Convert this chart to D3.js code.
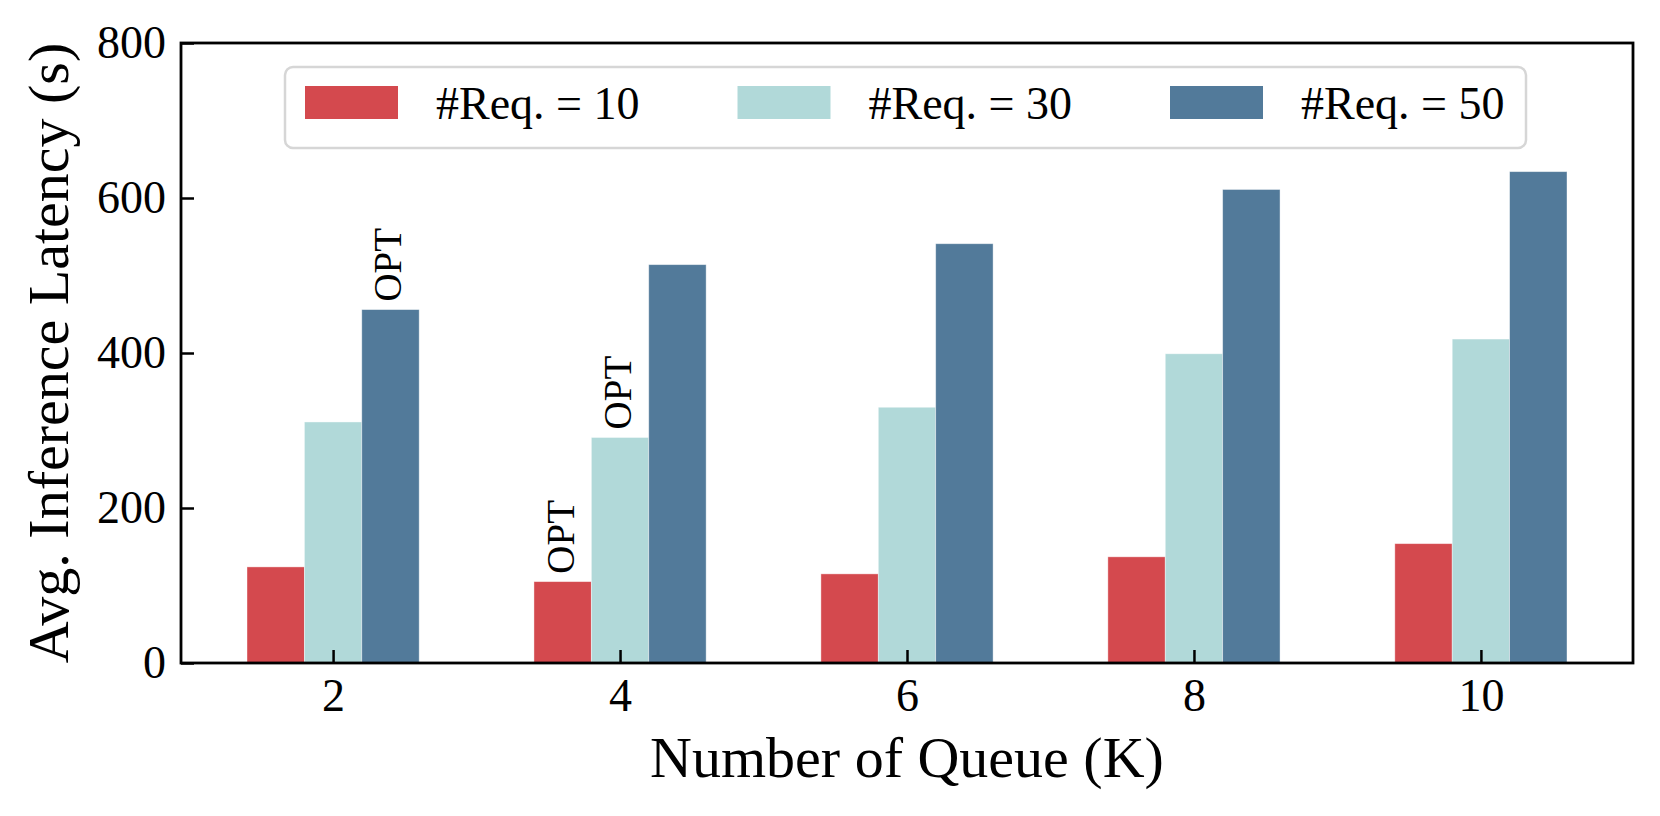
<!DOCTYPE html>
<html>
<head>
<meta charset="utf-8">
<script src="https://cdn.jsdelivr.net/npm/d3@7"></script>
<style>
  body { margin: 0; background: #fff; }
  svg text { font-family: "Liberation Serif", "Times New Roman", serif; fill: #000; }
</style>
</head>
<body>
<div id="chart"></div>
<script>
// data
const queues = [2, 4, 6, 8, 10];
const seriesNames = ['#Req. = 10', '#Req. = 30', '#Req. = 50'];
const req10 = [124, 105, 115, 137, 154];
const req30 = [311, 291, 330, 399, 418];
const req50 = [456, 514, 541, 611, 634];
const yTicks = [0, 200, 400, 600, 800];
// which bars carry the "OPT" mark: [queue index, series index]
const optMarks = [[0, 2], [1, 0], [1, 1]];

const colors = ['#d4494e', '#b1d9d9', '#527a9a'];
const series = [req10, req30, req50];

const W = 1660, H = 816;
const margin = { left: 181, right: 27, top: 43, bottom: 153 };
const barW = 0.4;

const svg = d3.select('#chart').append('svg')
  .attr('width', W).attr('height', H);

const x = d3.scaleLinear()
  .domain([0.94, 11.06])
  .range([margin.left, W - margin.right]);
const y = d3.scaleLinear()
  .domain([0, 800])
  .range([H - margin.bottom, margin.top]);

const bw = x(barW) - x(0);

// bars
const g = svg.append('g');
series.forEach((vals, si) => {
  g.selectAll(`.bar-${si}`)
    .data(vals.map((v, i) => ({ k: queues[i], v })))
    .enter().append('rect')
    .attr('class', `bar-${si}`)
    .attr('x', d => x(d.k + (si - 1) * barW) - bw / 2)
    .attr('y', d => y(d.v))
    .attr('width', bw)
    .attr('height', d => y(0) - y(d.v))
    .attr('fill', colors[si])
    .attr('stroke', '#fff')
    .attr('stroke-opacity', 0.5)
    .attr('stroke-width', 0.8);
});

// OPT labels, rotated
optMarks.forEach(([qi, si]) => {
  const cx = x(queues[qi] + (si - 1) * barW);
  const ty = y(series[si][qi]) - 8;
  svg.append('text')
    .attr('transform', `translate(${cx + 11},${ty}) rotate(-90)`)
    .attr('text-anchor', 'start')
    .style('font-size', '39px')
    .text('OPT');
});

// axes
const xAxis = d3.axisBottom(x).tickValues(queues).tickSizeInner(-13).tickSizeOuter(0).tickPadding(15);
const yAxis = d3.axisLeft(y).tickValues(yTicks).tickSizeInner(-13).tickSizeOuter(0).tickPadding(15);

const gx = svg.append('g')
  .attr('transform', `translate(0,${y(0)})`)
  .call(xAxis);
const gy = svg.append('g')
  .attr('transform', `translate(${margin.left},0)`)
  .call(yAxis);

[gx, gy].forEach(ax => {
  ax.select('.domain').remove();
  ax.selectAll('.tick line').attr('stroke', '#000').attr('stroke-width', 2.5);
  ax.selectAll('.tick text').style('font-size', '46px').attr('fill', '#000');
});
gx.selectAll('.tick text').attr('dy', '0.71em');

// frame
svg.append('rect')
  .attr('x', margin.left).attr('y', margin.top)
  .attr('width', W - margin.left - margin.right)
  .attr('height', H - margin.top - margin.bottom)
  .attr('fill', 'none').attr('stroke', '#000').attr('stroke-width', 2.8);

// axis titles
svg.append('text')
  .attr('x', (margin.left + W - margin.right) / 2)
  .attr('y', 777)
  .attr('text-anchor', 'middle')
  .style('font-size', '58px')
  .text('Number of Queue (K)');

svg.append('text')
  .attr('transform', `translate(68,${(margin.top + H - margin.bottom) / 2}) rotate(-90)`)
  .attr('text-anchor', 'middle')
  .style('font-size', '58px')
  .text('Avg. Inference Latency (s)');

// legend
const leg = svg.append('g');
leg.append('rect')
  .attr('x', 285).attr('y', 67)
  .attr('width', 1241).attr('height', 81)
  .attr('rx', 8).attr('ry', 8)
  .attr('fill', '#fff').attr('fill-opacity', 0.8)
  .attr('stroke', '#d6d6d6').attr('stroke-width', 2.5);

const items = leg.selectAll('.item')
  .data(seriesNames)
  .enter().append('g')
  .attr('transform', (d, i) => `translate(${305 + i * 432.5},86)`);
items.append('rect')
  .attr('width', 93).attr('height', 33)
  .attr('fill', (d, i) => colors[i]);
items.append('text')
  .attr('x', 131).attr('y', 33)
  .style('font-size', '46px')
  .text(d => d);
</script>
</body>
</html>
